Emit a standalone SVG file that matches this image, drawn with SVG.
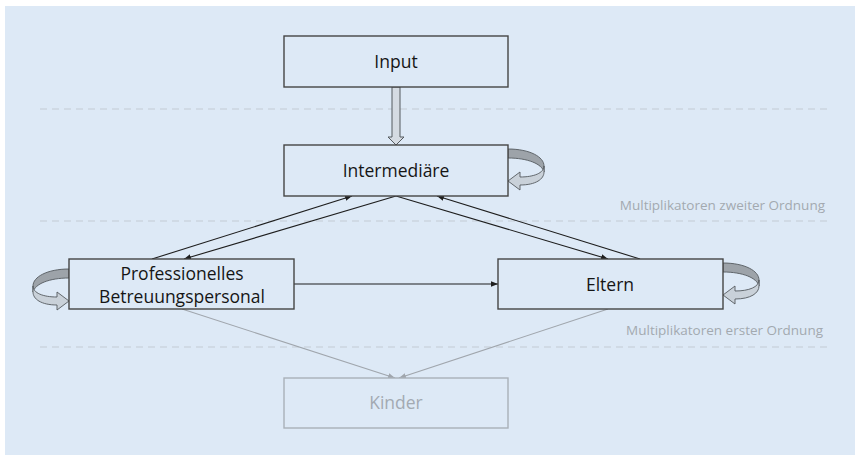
<svg xmlns="http://www.w3.org/2000/svg" width="855" height="455" viewBox="0 0 855 455">
  <style>
    .box { fill: #dde9f6; stroke: #454545; stroke-width: 1.4; }
    .box-faint { fill: #dde9f6; stroke: #a9b0b8; stroke-width: 1.4; }
    .label { font-family: "Open Sans", "Liberation Sans", sans-serif; font-size: 17.5px; fill: #151515; text-anchor: middle; }
    .label-faint { font-family: "Open Sans", "Liberation Sans", sans-serif; font-size: 17.5px; fill: #a3aab2; text-anchor: middle; }
    .level { font-family: "Open Sans", "Liberation Sans", sans-serif; font-size: 13.5px; fill: #a3a9b0; text-anchor: end; }
    .divider { stroke: #c3cbd3; stroke-width: 1.2; stroke-dasharray: 7 5; fill: none; }
    .edge { stroke: #1e1e1e; stroke-width: 1.1; fill: none; marker-end: url(#head); }
    .edge-faint { stroke: #a0a6ad; stroke-width: 1.1; fill: none; marker-end: url(#head-faint); }
    .loop-back { fill: #9da3a9; stroke: #555a5f; stroke-width: 0.9; }
    .loop-front { fill: #c9d1d9; stroke: #555a5f; stroke-width: 0.9; }
  </style>
  <defs>
    <marker id="head" viewBox="0 0 10 10" refX="10" refY="5" markerWidth="7" markerHeight="7" markerUnits="userSpaceOnUse" orient="auto">
      <path d="M0,1 L10,5 L0,9 Z" fill="#1e1e1e"/>
    </marker>
    <marker id="head-faint" viewBox="0 0 10 10" refX="10" refY="5" markerWidth="7" markerHeight="7" markerUnits="userSpaceOnUse" orient="auto">
      <path d="M0,1 L10,5 L0,9 Z" fill="#a0a6ad"/>
    </marker>
    <!-- curled feedback arrow, anchored at the box edge -->
    <g id="self-loop">
      <path class="loop-back" d="M0,0 C22,0 36,8 36,17 L36,23 C34,15 20,9 0,9 Z"/>
      <path class="loop-front" d="M36,17 C36,24 26,28 12,28 L12,23 L0,32 L12,41 L12,36 C28,36 36,30 36,23 Z"/>
    </g>
  </defs>

  <!-- panel -->
  <rect x="0" y="0" width="855" height="455" fill="#ffffff"/>
  <rect x="5" y="6" width="850" height="449" fill="#dde9f6"/>

  <!-- level dividers -->
  <g id="dividers">
    <line class="divider" x1="40" y1="109" x2="830" y2="109"/>
    <line class="divider" x1="40" y1="221" x2="830" y2="221"/>
    <line class="divider" x1="40" y1="347" x2="830" y2="347"/>
    <text class="level" x="825" y="210">Multiplikatoren zweiter Ordnung</text>
    <text class="level" x="823" y="335">Multiplikatoren erster Ordnung</text>
  </g>

  <!-- connectors -->
  <g id="connectors">
    <path d="M392,87 L400,87 L400,137 L404,137 L396,145 L388,137 L392,137 Z" fill="#d5dbe2" stroke="#555a5f" stroke-width="1"/>
    <line class="edge" x1="152" y1="259" x2="352" y2="196"/>
    <line class="edge" x1="396" y1="196" x2="184" y2="259"/>
    <line class="edge" x1="396" y1="196" x2="608" y2="259"/>
    <line class="edge" x1="640" y1="259" x2="437" y2="196"/>
    <line class="edge" x1="294" y1="284" x2="498" y2="284"/>
    <line class="edge-faint" x1="182" y1="309" x2="395" y2="378"/>
    <line class="edge-faint" x1="608" y1="309" x2="399" y2="378"/>
    <use href="#self-loop" transform="translate(508,149)"/>
    <use href="#self-loop" transform="translate(723,263)"/>
    <use href="#self-loop" transform="translate(69,269) scale(-1,1)"/>
  </g>

  <g id="input">
    <rect class="box" x="284" y="36" width="224" height="51"/>
    <text class="label" x="396" y="68">Input</text>
  </g>
  <g id="intermediaere">
    <rect class="box" x="284" y="145" width="224" height="51"/>
    <text class="label" x="396" y="177">Intermediäre</text>
  </g>
  <g id="betreuungspersonal">
    <rect class="box" x="69" y="259" width="225" height="50"/>
    <text class="label" x="182" y="280">Professionelles</text>
    <text class="label" x="182" y="303">Betreuungspersonal</text>
  </g>
  <g id="eltern">
    <rect class="box" x="498" y="259" width="225" height="50"/>
    <text class="label" x="610" y="291">Eltern</text>
  </g>
  <g id="kinder">
    <rect class="box-faint" x="284" y="378" width="224" height="50"/>
    <text class="label-faint" x="396" y="409">Kinder</text>
  </g>
</svg>
